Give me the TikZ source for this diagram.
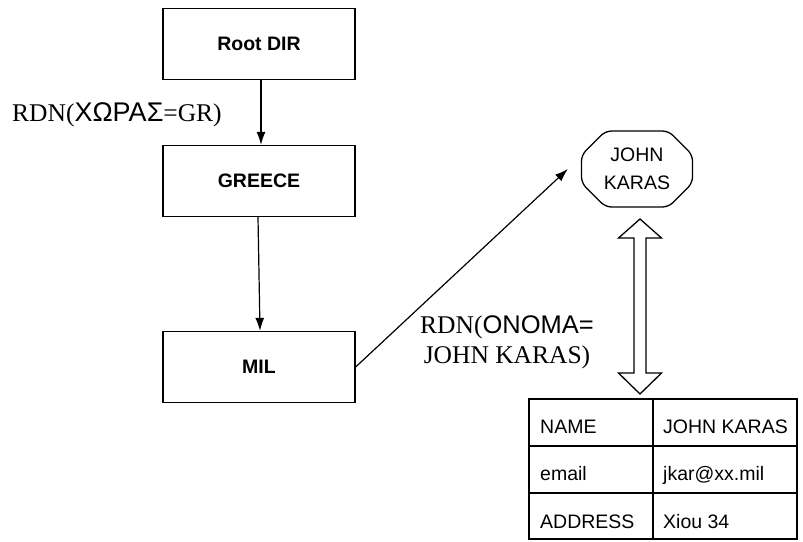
\documentclass[tikz,border=0pt]{standalone}
\usepackage{fontspec}
\setmainfont{Liberation Serif}
\newfontfamily\arial{Liberation Sans}
\usetikzlibrary{arrows.meta,shapes.misc,calc}

\tikzset{
  dirbox/.style={draw, line width=1.3pt, minimum width=192pt, minimum height=71pt,
    inner sep=0pt, font=\arial\bfseries\fontsize{19.5}{23}\selectfont},
  entrybox/.style={draw, line width=1.3pt, chamfered rectangle,
    chamfered rectangle xsep=12pt, chamfered rectangle ysep=12pt,
    minimum width=111pt, minimum height=76pt, inner sep=0pt, rounded corners=6pt,
    align=center, font=\arial\fontsize{19.5}{28.5}\selectfont},
  link/.style={line width=1.2pt, -{Latex[length=13pt,width=9pt]}},
  rdn/.style={inner sep=0pt, font=\fontsize{25.5}{30}\selectfont},
  cell/.style={inner sep=0pt, anchor=base west, font=\arial\fontsize{19.5}{23}\selectfont},
  grid/.style={line width=1.5pt},
  hollow/.style={line width=1.3pt, fill=white, line join=miter}
}

\begin{document}
\begin{tikzpicture}[x=1pt, y=-1pt]
  \useasboundingbox (0,0) rectangle (803,541);

  % directory tree
  \node[dirbox] (root)   at (259,44)  {Root DIR};
  \node[dirbox] (greece) at (259,181) {GREECE};
  \node[dirbox] (mil)    at (259,367) {MIL};

  \draw[link] ([xshift=2pt]root.south) -- ([xshift=2pt]greece.north);
  \draw[link] ([xshift=-1pt]greece.south) -- ([xshift=1pt]mil.north);

  \node[rdn, anchor=base west] (rdnA) at (12,121)
    {RDN({\arial\fontsize{27}{30}\selectfont ΧΩΡΑΣ}=GR)};

  % leaf entry
  \node[entrybox] (entry) at (637,169) {JOHN\\KARAS};
  \draw[link] (mil.east) -- ([xshift=-13pt]entry.west);

  \node[rdn, anchor=base] (rdnB1) at (507,333) {RDN({\arial ONOMA=}};
  \node[rdn, anchor=base] (rdnB2) at (507,363) {JOHN KARAS)};

  % attribute table
  \coordinate (tl) at (529,399);
  \coordinate (br) at (797,539);
  \draw[line width=1.9pt] (tl) rectangle (br);
  \draw[grid] (tl |- 0,446) -- (br |- 0,446);
  \draw[grid] (tl |- 0,493) -- (br |- 0,493);
  \draw[grid] (653,0 |- tl) -- (653,0 |- br);

  \node[cell] (k1) at (540,433) {NAME};
  \node[cell] (v1) at (663,433) {JOHN KARAS};
  \node[cell] (k2) at (540,480) {email};
  \node[cell] (v2) at (663,480) {jkar@xx.mil};
  \node[cell] (k3) at (540,528) {ADDRESS};
  \node[cell] (v3) at (663,528) {Xiou 34};

  % hollow double arrow between entry and table
  \coordinate (up) at (640,219);
  \coordinate (dn) at (640,394);
  \draw[hollow] (up) -- ($(up)+(21.5,19)$) -- ($(up)+(6,19)$) -- ($(dn)+(6,-21)$)
    -- ($(dn)+(21.5,-21)$) -- (dn) -- ($(dn)+(-21.5,-21)$) -- ($(dn)+(-6,-21)$)
    -- ($(up)+(-6,19)$) -- ($(up)+(-21.5,19)$) -- cycle;
\end{tikzpicture}
\end{document}
